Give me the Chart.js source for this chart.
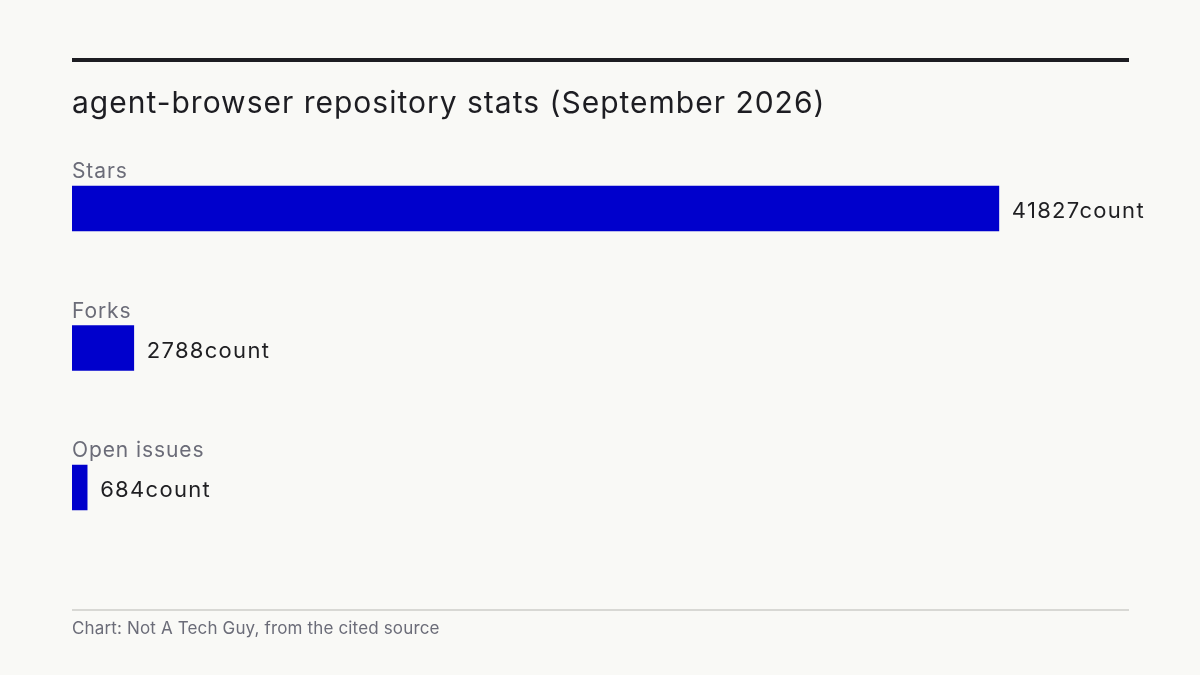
<!DOCTYPE html>
<html lang="en">
<head>
  <meta charset="UTF-8">
  <title>agent-browser repository stats</title>
  <script src="https://cdn.jsdelivr.net/npm/chart.js"></script>
  <style>
    html, body {
      margin: 0;
      padding: 0;
      background-color: #f9f9f6;
    }
    .wrap {
      width: 1200px;
      height: 675px;
      position: relative;
    }
  </style>
</head>
<body>
  <div class="wrap">
    <canvas id="statsChart" width="1200" height="675"></canvas>
  </div>

  <script>
    const categories = ['Stars', 'Forks', 'Open issues'];
    const counts = [41827, 2788, 684];
    const unitSuffix = 'count';
    const titleText = 'agent-browser repository stats (September 2026)';
    const footerText = 'Chart: Not A Tech Guy, from the cited source';

    const FONT = 'Inter, "Noto Sans", sans-serif';

    // title, rules, footer, category labels and value labels
    const decorations = {
      id: 'decorations',
      beforeDraw(chart) {
        const c = chart.ctx;
        c.save();
        c.fillStyle = '#f9f9f6';
        c.fillRect(0, 0, chart.width, chart.height);

        c.fillStyle = '#1d1d22';
        c.fillRect(72, 58, 1057, 4);

        c.font = '400 30px ' + FONT;
        c.letterSpacing = '1px';
        c.fillStyle = '#1d1d22';
        c.textBaseline = 'alphabetic';
        c.textAlign = 'left';
        c.fillText(titleText, 72, 113);

        c.fillStyle = '#d8d8d4';
        c.fillRect(72, 609, 1057, 2);

        c.font = '400 17px ' + FONT;
        c.letterSpacing = '0.15px';
        c.fillStyle = '#6b6c78';
        c.fillText(footerText, 72, 634);
        c.restore();
      },
      afterDatasetsDraw(chart) {
        const c = chart.ctx;
        const meta = chart.getDatasetMeta(0);
        c.save();
        meta.data.forEach((bar, i) => {
          const top = bar.y - bar.height / 2;
          c.font = '400 21px ' + FONT;
          c.letterSpacing = '0.9px';
          c.fillStyle = '#6b6c78';
          c.textAlign = 'left';
          c.textBaseline = 'alphabetic';
          c.fillText(categories[i], 72, top - 8);

          c.font = '400 22px ' + FONT;
          c.letterSpacing = '1.3px';
          c.fillStyle = '#1f1f22';
          c.textBaseline = 'middle';
          c.fillText(counts[i] + unitSuffix, bar.x + 13, bar.y + 3);
        });
        c.restore();
      }
    };

    const ctx = document.getElementById('statsChart').getContext('2d');
    new Chart(ctx, {
      type: 'bar',
      data: {
        labels: categories,
        datasets: [{
          data: counts,
          backgroundColor: '#0000cc',
          borderWidth: 0,
          barThickness: 45
        }]
      },
      options: {
        indexAxis: 'y',
        responsive: false,
        animation: false,
        layout: {
          padding: { top: 138.75, bottom: 117.75, left: 72, right: 71 }
        },
        scales: {
          x: { display: false, min: 0, max: 47700 },
          y: { display: false }
        },
        plugins: {
          legend: { display: false },
          tooltip: { enabled: false }
        }
      },
      plugins: [decorations]
    });
  </script>
</body>
</html>
